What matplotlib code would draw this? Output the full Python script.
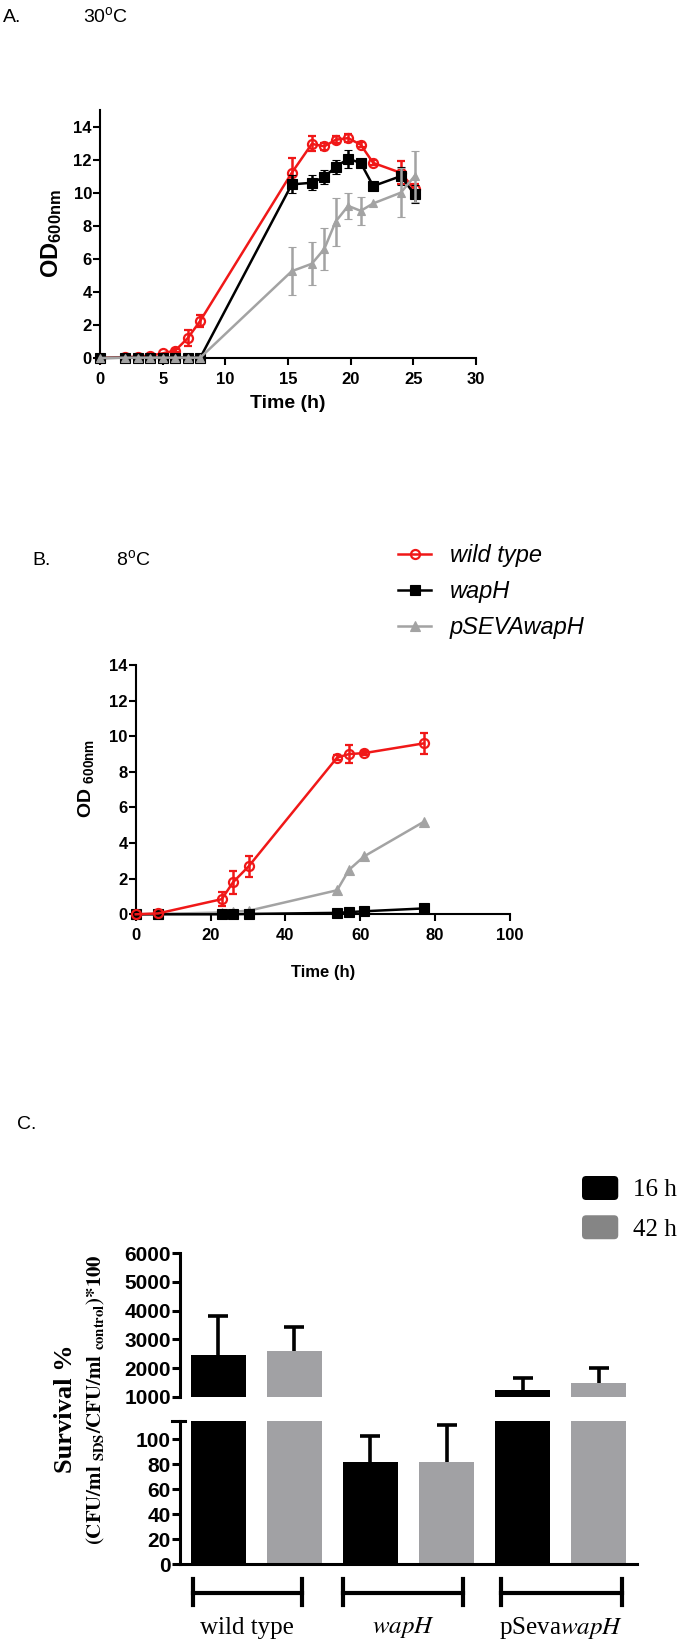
import matplotlib
matplotlib.use('Agg')
import matplotlib.pyplot as plt
import numpy as np
from matplotlib.patches import Patch, FancyBboxPatch
from matplotlib.legend_handler import HandlerPatch

plt.rcParams['font.family'] = ['Liberation Sans', 'DejaVu Sans']
plt.rcParams['mathtext.fontset'] = 'custom'
plt.rcParams['mathtext.rm'] = 'Liberation Sans'
plt.rcParams['mathtext.it'] = 'Liberation Sans:italic'
plt.rcParams['mathtext.bf'] = 'Liberation Sans:bold'

# ---- panel A, 30 C growth
t_a = [0, 2, 3, 4, 5, 6, 7, 8, 15.3, 16.9, 17.9, 18.8, 19.8, 20.8, 21.8, 24.0, 25.1]
wt_a = [0, 0.05, 0.08, 0.15, 0.28, 0.45, 1.2, 2.25, 11.2, 12.95, 12.8, 13.2, 13.3, 12.9, 11.8, 11.2, 10.2]
wt_a_err = [0, 0, 0, 0, 0, 0.1, 0.5, 0.35, 0.9, 0.45, 0.2, 0.2, 0.25, 0.15, 0.15, 0.7, 0.3]
wap_a = [0, 0.02, 0.02, 0.02, 0.02, 0.02, 0.02, 0.02, 10.5, 10.6, 10.95, 11.55, 12.05, 11.8, 10.4, 11.0, 9.9]
wap_a_err = [0, 0, 0, 0, 0, 0, 0, 0, 0.55, 0.45, 0.45, 0.45, 0.55, 0.1, 0.1, 0.55, 0.55]
psv_a = [0, 0.02, 0.02, 0.02, 0.02, 0.02, 0.02, 0.02, 5.25, 5.7, 6.6, 8.25, 9.2, 8.9, 9.35, 10.0, 11.0]
psv_a_err = [0, 0, 0, 0, 0, 0, 0, 0, 1.45, 1.3, 1.25, 1.45, 0.8, 0.85, 0, 1.5, 1.55]

# ---- panel B, 8 C growth
t_b = [0, 6, 23, 26, 30.2, 53.8, 57, 61, 77]
wt_b = [0, 0.05, 0.85, 1.8, 2.7, 8.8, 9.0, 9.05, 9.6]
wt_b_err = [0, 0, 0.4, 0.65, 0.6, 0.15, 0.5, 0.1, 0.6]
wap_b = [0, 0.0, 0.0, 0.0, 0.02, 0.08, 0.12, 0.17, 0.33]
psv_b = [0, 0.02, 0.1, 0.15, 0.2, 1.35, 2.5, 3.25, 5.2]

strains = ['wild type', 'wapH', 'pSEVAwapH']

# ---- panel C, survival
groups = ['wild type', r'$\it{wapH}$', r'pSeva$\it{wapH}$']
h16 = [2450, 81.9, 1235]
h16_err = [1360, 21, 410]
h42 = [2590, 81.9, 1470]
h42_err = [830, 29.5, 540]

red = '#f01818'
grey = '#a3a3a3'
bargrey = '#a1a1a4'

W, H = 683, 1639
fig = plt.figure(figsize=(W / 100, H / 100), dpi=100)


def px_axes(x0, y_top, x1, y_bot):
    return fig.add_axes([x0 / W, 1 - y_bot / H, (x1 - x0) / W, (y_bot - y_top) / H])


def style(ax, lw=1.5, tl=4.8, size=12, xpad=5, ypad=1):
    for s in ['top', 'right']:
        ax.spines[s].set_visible(False)
    for s in ['left', 'bottom']:
        ax.spines[s].set_linewidth(lw)
    ax.tick_params(direction='out', length=tl, width=lw, labelsize=size)
    ax.tick_params(axis='x', pad=xpad)
    ax.tick_params(axis='y', pad=ypad)
    plt.setp(ax.get_xticklabels() + ax.get_yticklabels(), fontweight='bold')


def growth(ax, t, y, err, color, marker, ms, z, mfc=None, mew=0.8):
    if err is not None:
        err = [e if e > 0 else np.nan for e in err]
    c = ax.errorbar(t, y, yerr=err, color=color, marker=marker, ms=ms,
                    mfc=mfc if mfc else color, mec=color, mew=mew, lw=1.8,
                    elinewidth=1.8, capsize=2.8, capthick=1.8, zorder=z,
                    clip_on=False)
    return c


class RoundHandler(HandlerPatch):
    def create_artists(self, legend, orig_handle, xdescent, ydescent, width,
                       height, fontsize, trans):
        p = FancyBboxPatch((-xdescent, -ydescent), width, height,
                           boxstyle='round,pad=0,rounding_size=3',
                           fc=orig_handle.get_facecolor(), ec='none',
                           transform=trans)
        return [p]


# ---------------- A
axA = px_axes(100, 110, 476, 358)
growth(axA, t_a, wt_a, wt_a_err, red, 'o', 6.5, 3, mfc='none', mew=1.6)
growth(axA, t_a, wap_a, wap_a_err, 'k', 's', 6.5, 4)
growth(axA, t_a, psv_a, psv_a_err, grey, '^', 6.2, 5)
axA.set_xlim(0, 30)
axA.set_ylim(0, 15)
axA.set_xticks(range(0, 31, 5))
axA.set_yticks(range(0, 15, 2))
style(axA)
axA.set_xlabel('Time (h)', fontsize=14, fontweight='bold', labelpad=6)
axA.set_ylabel(r'$\mathbf{OD_{600nm}}$', fontsize=17, va='center')
axA.yaxis.set_label_coords(-0.13, 0.5)

fig.text(3 / W, 1 - 22 / H, 'A.', fontsize=14)
fig.text(83 / W, 1 - 22 / H, r'30$^{\mathrm{o}}$C', fontsize=14)

# ---------------- B
axB = px_axes(135.7, 665, 510, 914.3)
cw = growth(axB, t_b, wt_b, wt_b_err, red, 'o', 6.5, 5, mfc='none', mew=1.6)
cm = growth(axB, t_b, wap_b, None, 'k', 's', 6.5, 4)
cp = growth(axB, t_b, psv_b, None, grey, '^', 6.5, 3)
axB.set_xlim(0, 100)
axB.set_ylim(0, 14)
axB.set_xticks(range(0, 101, 20))
axB.set_yticks(range(0, 15, 2))
style(axB)
axB.set_xlabel('Time (h)', fontsize=12, fontweight='bold', labelpad=16)
axB.set_ylabel(r'$\mathbf{OD\ _{600nm}}$', fontsize=14, va='center')
axB.yaxis.set_label_coords(-0.133, 0.547)
axB.legend([cw.lines[0], cm.lines[0], cp.lines[0]], strains, loc='upper left',
           bbox_to_anchor=(398 / W, 1 - 544 / H), bbox_transform=fig.transFigure,
           frameon=False, prop={'style': 'italic', 'size': 17}, handlelength=1.4,
           handletextpad=0.8, labelspacing=0.55, borderpad=0, borderaxespad=0)

fig.text(32 / W, 1 - 565 / H, 'B.', fontsize=14)
fig.text(116 / W, 1 - 565 / H, r'8$^{\mathrm{o}}$C', fontsize=14)

# ---------------- C (broken y axis)
axHi = px_axes(180, 1253.3, 637, 1396.7)
axLo = px_axes(180, 1420.5, 637, 1564)
x16 = np.arange(len(groups)) * 2 + 0.5
x42 = x16 + 1
for ax in (axHi, axLo):
    ax.bar(x16, h16, width=0.72, color='k', zorder=2)
    ax.bar(x42, h42, width=0.72, color=bargrey, zorder=2)
    for xs, hs, es in ((x16, h16, h16_err), (x42, h42, h42_err)):
        eb = ax.errorbar(xs, hs, yerr=[np.zeros(3), es], fmt='none', ecolor='k',
                         elinewidth=2.6, capsize=7.5, capthick=2.6, zorder=1)
        eb[1][0].set_visible(False)
    ax.set_xlim(0, 6)
    ax.set_xticks([])
axHi.set_ylim(1000, 6000)
axHi.set_yticks(range(1000, 6001, 1000))
axLo.set_ylim(0, 115)
axLo.set_yticks(range(0, 101, 20))
style(axHi, lw=2.2, tl=5.5, size=15)
style(axLo, lw=2.2, tl=5.5, size=15)
axHi.spines['bottom'].set_visible(False)
axLo.plot([-0.11, 0.07], [115, 115], color='k', lw=2.2, clip_on=False)

# group brackets under the bars
spans = [(0.17, 1.6), (2.14, 3.72), (4.21, 5.8)]
for (a, b), g in zip(spans, groups):
    axLo.plot([a, b], [-23, -23], color='k', lw=3, clip_on=False)
    axLo.plot([a, a], [-12, -33], color='k', lw=3, clip_on=False)
    axLo.plot([b, b], [-12, -33], color='k', lw=3, clip_on=False)
    axLo.text((a + b) / 2, -51, g, ha='center', va='center', fontsize=18,
              family='Liberation Serif', math_fontfamily='stix')

axHi.legend([Patch(facecolor='k'), Patch(facecolor='#858585')], ['16 h', '42 h'],
            handler_map={Patch: RoundHandler()},
            loc='upper left', bbox_to_anchor=(582 / W, 1 - 1176 / H),
            bbox_transform=fig.transFigure, frameon=False,
            prop={'family': 'Liberation Serif', 'size': 18},
            handlelength=1.45, handleheight=1.1, handletextpad=0.6,
            labelspacing=0.55, borderpad=0, borderaxespad=0)

fig.text(66 / W, 1 - 1409 / H, 'Survival %', rotation=90, ha='center', va='center',
         fontsize=19, fontweight='bold', family='Liberation Serif')
fig.text(96 / W, 1 - 1400 / H,
         r'$\mathbf{(CFU/ml\ _{SDS}/CFU/ml\ _{control}){*}100}$',
         rotation=90, ha='center', va='center', fontsize=15, math_fontfamily='stix')

fig.text(17 / W, 1 - 1129 / H, 'C.', fontsize=14)

fig.savefig('out.png', dpi=100)
